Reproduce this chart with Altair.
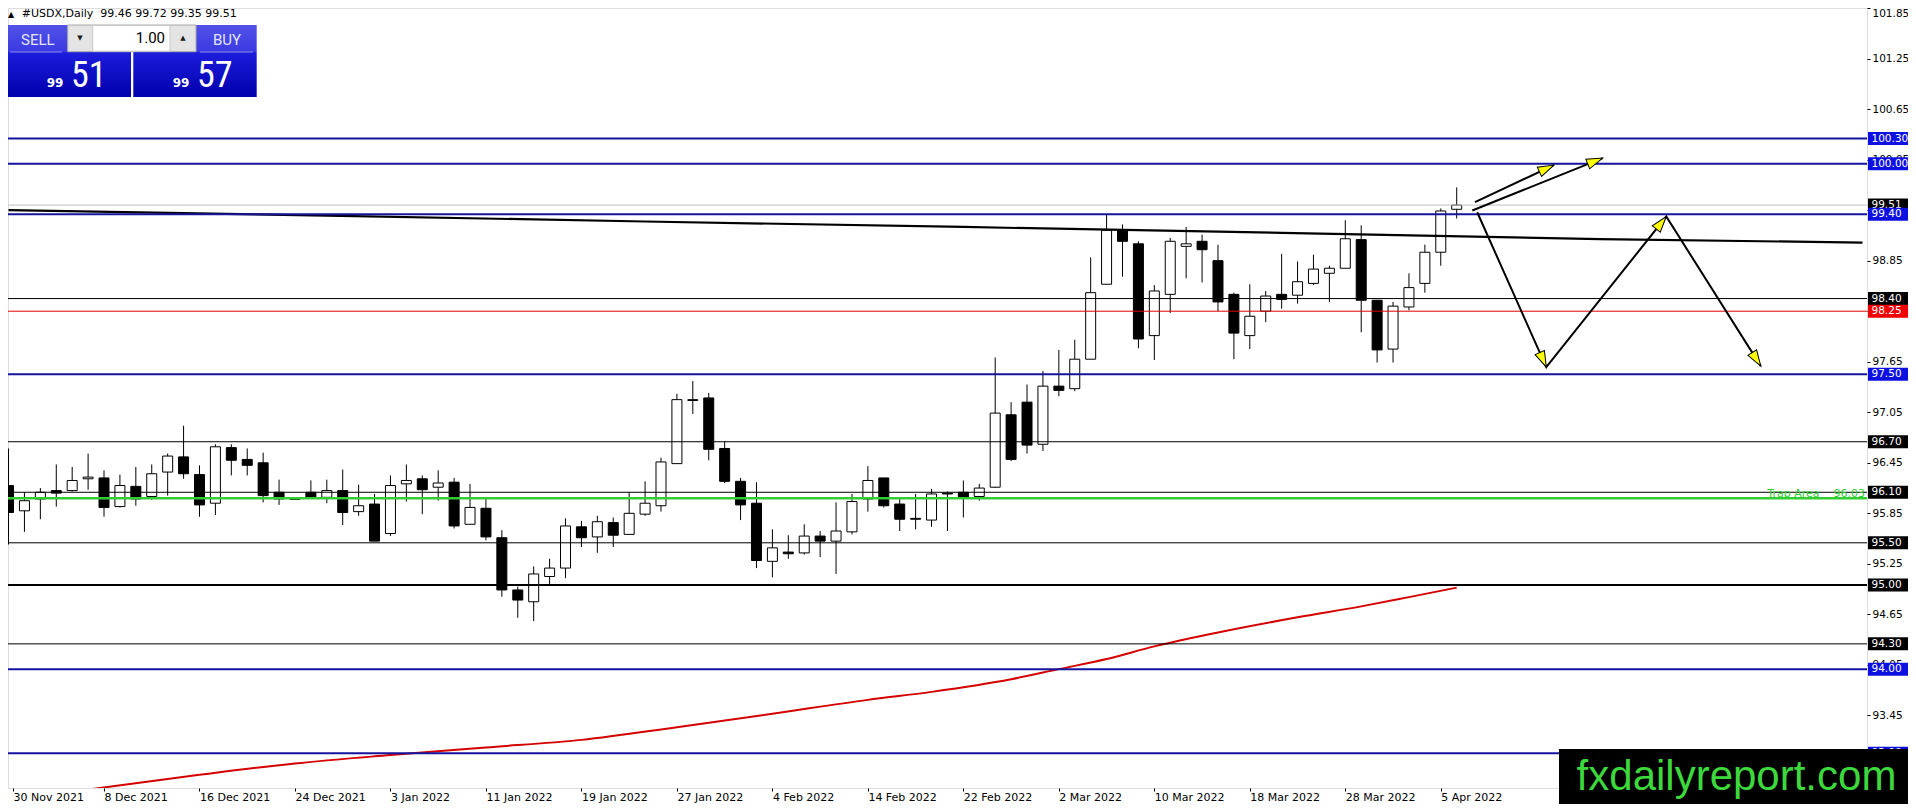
import json
import math
import altair as alt
import pandas as pd

# ---------------- data ----------------
DATE_LABELS = ["30 Nov 2021", "8 Dec 2021", "16 Dec 2021", "24 Dec 2021", "3 Jan 2022",
               "11 Jan 2022", "19 Jan 2022", "27 Jan 2022", "4 Feb 2022", "14 Feb 2022",
               "22 Feb 2022", "2 Mar 2022", "10 Mar 2022", "18 Mar 2022", "28 Mar 2022",
               "5 Apr 2022"]

OPEN = [96.18, 95.88, 96.02, 96.12, 96.12, 96.26, 96.27, 95.93, 96.17, 96.05,
        96.34, 96.52, 96.31, 95.97, 96.63, 96.49, 96.45, 96.10, 96.025, 96.10,
        96.04, 96.12, 95.87, 95.96, 95.61, 96.20, 96.26, 96.16, 96.22, 95.72,
        95.91, 95.56, 94.94, 94.80, 95.10, 95.20, 95.69, 95.57, 95.74, 95.60,
        95.84, 95.94, 96.44, 97.19, 97.22, 96.62, 96.23, 95.97, 95.28, 95.39,
        95.38, 95.58, 95.52, 95.63, 96.02, 96.27, 95.96, 95.79, 95.77, 96.09,
        96.10, 96.05, 96.16, 97.02, 97.17, 96.67, 97.36, 97.33, 97.68, 98.57,
        99.21, 99.05, 97.96, 98.45, 99.02, 99.08, 98.85, 98.45, 97.96, 98.25,
        98.45, 98.44, 98.58, 98.70, 98.76, 99.10, 98.38, 97.80, 98.30, 98.58,
        98.95, 99.46]
HIGH = [96.62, 96.10, 96.15, 96.43, 96.40, 96.56, 96.36, 96.31, 96.40, 96.43,
        96.56, 96.89, 96.42, 96.67, 96.67, 96.62, 96.57, 96.25, 96.03, 96.24,
        96.25, 96.37, 96.19, 96.08, 96.30, 96.43, 96.30, 96.36, 96.27, 96.20,
        96.02, 95.65, 94.98, 95.22, 95.31, 95.79, 95.76, 95.82, 95.80, 96.10,
        96.23, 96.51, 97.27, 97.42, 97.28, 96.70, 96.27, 96.22, 95.66, 95.59,
        95.72, 95.64, 95.98, 96.08, 96.41, 96.27, 96.03, 96.08, 96.14, 96.11,
        96.24, 96.20, 97.70, 97.17, 97.38, 97.54, 97.79, 97.91, 98.89, 99.40,
        99.28, 99.08, 98.56, 99.12, 99.25, 99.16, 99.04, 98.47, 98.57, 98.49,
        98.93, 98.84, 98.92, 98.79, 99.33, 99.27, 98.38, 98.36, 98.70, 99.04,
        99.47, 99.72]
LOW = [95.48, 95.63, 95.78, 95.93, 96.11, 96.13, 95.81, 95.92, 95.94, 96.01,
       96.06, 96.26, 95.81, 95.83, 96.30, 96.30, 95.98, 95.95, 96.01, 96.02,
       95.97, 95.71, 95.82, 95.52, 95.58, 95.99, 95.84, 96.00, 95.67, 95.72,
       95.53, 94.86, 94.61, 94.57, 95.00, 95.08, 95.45, 95.38, 95.45, 95.60,
       95.82, 95.87, 96.44, 97.03, 96.48, 96.21, 95.77, 95.20, 95.09, 95.31,
       95.36, 95.33, 95.13, 95.60, 95.87, 95.92, 95.64, 95.66, 95.69, 95.64,
       95.80, 96.00, 96.15, 96.47, 96.56, 96.59, 97.24, 97.30, 97.68, 98.57,
       98.66, 97.81, 97.67, 98.23, 98.64, 98.59, 98.25, 97.68, 97.80, 98.12,
       98.28, 98.34, 98.56, 98.36, 98.76, 98.00, 97.64, 97.64, 98.26, 98.47,
       98.79, 99.35]
CLOSE = [95.86, 96.00, 96.10, 96.09, 96.24, 96.28, 95.92, 96.18, 96.02, 96.32,
         96.53, 96.32, 95.95, 96.64, 96.48, 96.42, 96.06, 96.02, 96.015, 96.04,
         96.12, 95.86, 95.94, 95.52, 96.18, 96.24, 96.13, 96.21, 95.70, 95.92,
         95.57, 94.94, 94.82, 95.13, 95.20, 95.70, 95.56, 95.75, 95.59, 95.85,
         95.97, 96.46, 97.20, 97.20, 96.61, 96.23, 95.95, 95.29, 95.44, 95.37,
         95.58, 95.52, 95.64, 95.99, 96.24, 95.94, 95.78, 95.78, 96.08, 96.08,
         96.04, 96.15, 97.04, 96.49, 96.66, 97.36, 97.31, 97.68, 98.47, 99.21,
         99.08, 97.92, 98.49, 99.08, 99.05, 98.98, 98.36, 97.99, 98.19, 98.43,
         98.39, 98.60, 98.75, 98.76, 99.11, 98.38, 97.79, 98.31, 98.53, 98.95,
         99.44, 99.51]

# slow moving average (black) and rising moving average (red)
MA_BLACK_IDX = [0, 20, 40, 60, 80, 100, 116.5]
MA_BLACK_VAL = [99.45, 99.385, 99.315, 99.25, 99.18, 99.105, 99.065]
MA_RED_IDX = [5, 12, 18, 24, 30, 36, 42, 48, 54, 58, 63, 66, 69, 72, 76, 81, 85, 88, 91]
MA_RED_VAL = [92.57, 92.745, 92.88, 92.98, 93.07, 93.16, 93.31, 93.47, 93.635, 93.73,
              93.88, 94.00, 94.12, 94.27, 94.435, 94.615, 94.745, 94.855, 94.968]

# horizontal levels
LEVEL_VALUES = [99.51, 100.30, 100.00, 99.40, 98.40, 98.25, 97.50, 96.70, 96.10, 95.50,
                95.00, 94.30, 94.00, 93.00]
LEVEL_KINDS = ["bid", "blue", "blue", "blue", "black", "red", "blue", "black", "black",
               "black", "black2", "black", "blue", "blue"]
TRAP_LEVEL = 96.03
TRAP_TEXT = "Trap Area\u00a0\u00a0\u00a0\u00a096.03"

Y_TICKS = [101.85, 101.25, 100.65, 100.05, 99.45, 98.85, 98.25, 97.65, 97.05, 96.45,
           95.85, 95.25, 94.65, 94.05, 93.45, 92.85]

# drawn scenario arrows (bar index, price)
ARROW1_X = [92.15, 97.11]
ARROW1_Y = [99.544, 99.985]
ARROW2_X = [91.98, 100.17]
ARROW2_Y = [99.445, 100.068]
ZIGZAG_X = [92.29, 96.63, 104.17, 110.11]
ZIGZAG_Y = [99.425, 97.586, 99.374, 97.598]

HEADER_TEXT = "#USDX,Daily\u00a0\u00a099.46 99.72 99.35 99.51"
WATERMARK = "fxdailyreport.com"

# ---------------- styles ----------------
LINE_STYLE = {
    "blue": ("#14149e", 2.0, "#0c10e0"),
    "black": ("#000000", 1.0, "#000000"),
    "black2": ("#000000", 2.0, "#000000"),
    "red": ("#e00000", 1.0, "#f00000"),
    "bid": ("#c0c0c0", 1.0, "#000000"),
}
GREEN = "#32cd32"
FONT = "DejaVu Sans"
UIFONT = "Roboto"

# ---------------- geometry ----------------
W, H = 1859, 780
X0 = 0.28125
X1 = X0 + W / 16.0
Y1 = 101.85
Y0 = 101.8413 - H / 84.3
XPPU = W / (X1 - X0)
YPPU = H / (Y1 - Y0)

XS = alt.Scale(domain=[X0, X1], nice=False, zero=False)
YS = alt.Scale(domain=[Y0, Y1], nice=False, zero=False)

assert len(OPEN) == len(HIGH) == len(LOW) == len(CLOSE)

candles = pd.DataFrame({"idx": list(range(len(OPEN))), "o": OPEN, "h": HIGH,
                        "l": LOW, "c": CLOSE})
candles["dir"] = ["up" if c >= o else "down" for o, c in zip(OPEN, CLOSE)]

X_AXIS = alt.Axis(
    values=[X0] + [6 * k for k in range(1, len(DATE_LABELS))],
    labelExpr="%s[round(datum.value / 6)]" % json.dumps(DATE_LABELS),
    orient="bottom", domain=False, grid=False, ticks=True, tickSize=3,
    tickColor="black", labelColor="black", labelFont=FONT, labelFontSize=11,
    labelAlign="left", labelBaseline="top", labelPadding=0,
    labelFlush=False, labelOverlap=False, title=None)
Y_AXIS = alt.Axis(
    values=Y_TICKS, format=".2f", orient="right", domain=False, grid=False,
    ticks=True, tickSize=3, tickColor="black", labelColor="black", labelFont=FONT,
    labelFontSize=10.5, labelPadding=2, labelFlush=True, labelOverlap=False, title=None)


def X(field):
    return alt.X(field, scale=XS, axis=X_AXIS)


def Y(field):
    return alt.Y(field, scale=YS, axis=Y_AXIS)


wicks = alt.Chart(candles).mark_rule(color="black", strokeWidth=1, clip=True).encode(
    x=X("idx:Q"), y=Y("l:Q"), y2="h:Q")

bodies = alt.Chart(candles).mark_bar(size=10, stroke="black", strokeWidth=1, clip=True).encode(
    x=X("idx:Q"), y=Y("o:Q"), y2="c:Q",
    fill=alt.Fill("dir:N", scale=alt.Scale(domain=["up", "down"], range=["#ffffff", "#000000"]),
                  legend=None))

ma_black = alt.Chart(pd.DataFrame({"i": MA_BLACK_IDX, "v": MA_BLACK_VAL})).mark_line(
    color="black", strokeWidth=2.2, clip=True).encode(x=X("i:Q"), y=Y("v:Q"))

ma_red = alt.Chart(pd.DataFrame({"i": MA_RED_IDX, "v": MA_RED_VAL})).mark_line(
    color="#d40000", strokeWidth=2, clip=True, interpolate="monotone").encode(
    x=X("i:Q"), y=Y("v:Q"))

levels = pd.DataFrame({"level": LEVEL_VALUES, "kind": LEVEL_KINDS})
levels["lc"] = [LINE_STYLE[k][0] for k in LEVEL_KINDS]
levels["lw"] = [LINE_STYLE[k][1] for k in LEVEL_KINDS]
levels["bc"] = [LINE_STYLE[k][2] for k in LEVEL_KINDS]
levels["label"] = ["%.2f" % v for v in LEVEL_VALUES]
levels["ylo"] = levels["level"] - 6.5 / YPPU
levels["yhi"] = levels["level"] + 6.5 / YPPU

rules = alt.Chart(levels).mark_rule(clip=True).encode(
    y=Y("level:Q"),
    color=alt.Color("lc:N", scale=None),
    strokeWidth=alt.StrokeWidth("lw:Q", scale=None))

trap_df = pd.DataFrame({"level": [TRAP_LEVEL], "t": [TRAP_TEXT]})
trap_rule = alt.Chart(trap_df).mark_rule(color=GREEN, strokeWidth=2.5, clip=True).encode(
    y=Y("level:Q"))
trap_text = alt.Chart(trap_df).mark_text(
    align="right", baseline="alphabetic", dy=-1.5, font=FONT, fontSize=11, color=GREEN).encode(
    x=alt.value(W - 2), y=Y("level:Q"), text="t:N")


def box_layers(df):
    r = alt.Chart(df).mark_rect().encode(
        x=alt.value(W + 1), x2=alt.value(W + 46),
        y=Y("ylo:Q"), y2="yhi:Q",
        color=alt.Color("bc:N", scale=None))
    t = alt.Chart(df).mark_text(align="left", baseline="middle", font=FONT, fontSize=10.5,
                                color="white").encode(
        x=alt.value(W + 4.5), y=Y("level:Q"), text="label:N")
    return [r, t]


box_bid = box_layers(levels[levels["kind"] == "bid"])
box_rest = box_layers(levels[levels["kind"] != "bid"])

# arrows
arrow_rows = []
for sid, (xs, ys) in enumerate([(ARROW1_X, ARROW1_Y), (ARROW2_X, ARROW2_Y), (ZIGZAG_X, ZIGZAG_Y)]):
    for k, (xv, yv) in enumerate(zip(xs, ys)):
        arrow_rows.append({"seg": sid, "ord": k, "x": xv, "y": yv})
arrows_df = pd.DataFrame(arrow_rows)

head_rows = []
for xs, ys in [(ARROW1_X, ARROW1_Y), (ARROW2_X, ARROW2_Y), (ZIGZAG_X, ZIGZAG_Y)]:
    for k in range(1, len(xs)):
        dx = (xs[k] - xs[k - 1]) * XPPU
        dy = -(ys[k] - ys[k - 1]) * YPPU
        ang = math.degrees(math.atan2(dx, -dy)) % 360
        head_rows.append({"x": xs[k], "y": ys[k], "ang": ang})
heads_df = pd.DataFrame(head_rows)

arrow_lines = alt.Chart(arrows_df).mark_line(color="black", strokeWidth=2).encode(
    x=X("x:Q"), y=Y("y:Q"), detail="seg:N", order="ord:Q")
arrow_heads = alt.Chart(heads_df).mark_point(
    shape="M0,0L0.32,1L-0.32,1Z", filled=True, fill="#ffff00", color="#ffff00",
    stroke="#000000", strokeWidth=1, opacity=1, size=1024).encode(
    x=X("x:Q"), y=Y("y:Q"), angle=alt.Angle("ang:Q", scale=None))

# ---------------- trading widget & header ----------------
ONE = pd.DataFrame({"k": [0]})


def rect(x, x2, y, y2, **kw):
    return alt.Chart(ONE).mark_rect(**kw).encode(
        x=alt.value(x), x2=alt.value(x2), y=alt.value(y), y2=alt.value(y2))


def label(x, y, text, **kw):
    return alt.Chart(ONE).mark_text(**kw).encode(
        x=alt.value(x), y=alt.value(y), text=alt.value(text))


def hline(x, x2, y, color):
    return alt.Chart(ONE).mark_rule(color=color, strokeWidth=1).encode(
        x=alt.value(x), x2=alt.value(x2), y=alt.value(y))


BTN_GRAD = {"gradient": "linear", "x1": 0, "x2": 0, "y1": 0, "y2": 1,
            "stops": [{"offset": 0, "color": "#5252e8"},
                      {"offset": 0.37, "color": "#3a3ae2"},
                      {"offset": 0.385, "color": "#1c1cdc"},
                      {"offset": 1, "color": "#0000ac"}]}
BIGFONT = "'Liberation Sans Narrow', 'Roboto Condensed', Roboto, sans-serif"

widget = [
    label(3, 9, "\u25b2", font=FONT, fontSize=8, align="center", baseline="alphabetic", color="black"),
    label(13.7, 9.3, HEADER_TEXT, font=FONT, fontSize=11, align="left", baseline="alphabetic",
          color="black"),
    rect(0, 123, 17, 89, fill=BTN_GRAD),
    rect(125.3, 248.7, 17, 89, fill=BTN_GRAD),
    hline(2, 54, 44, "#8a8af0"),
    hline(192, 245, 44, "#8a8af0"),
    rect(59.7, 188, 17, 43.7, fill="#e4e4e4", stroke="#a8a8a8", strokeWidth=1),
    rect(84.7, 162, 17.5, 43.2, fill="#ffffff", stroke="#c8c8c8", strokeWidth=1),
    label(72, 30, "\u25bc", font=FONT, fontSize=7, align="center", baseline="middle", color="#202020"),
    label(175, 30, "\u25b2", font=FONT, fontSize=7, align="center", baseline="middle", color="#202020"),
    label(157, 34.7, "1.00", font=UIFONT, fontSize=15, align="right", baseline="alphabetic",
          color="black"),
    label(13, 37, "SELL", font=UIFONT, fontSize=15, align="left", baseline="alphabetic",
          color="#e2e5ff"),
    label(205, 37, "BUY", font=UIFONT, fontSize=15, align="left", baseline="alphabetic",
          color="#e2e5ff"),
    label(38.7, 79.3, "99", font=FONT, fontSize=12, fontWeight="bold", align="left",
          baseline="alphabetic", color="white"),
    label(63, 79.3, "51", font=BIGFONT, fontSize=36, align="left", baseline="alphabetic",
          color="white"),
    label(164.7, 79.3, "99", font=FONT, fontSize=12, fontWeight="bold", align="left",
          baseline="alphabetic", color="white"),
    label(189, 79.3, "57", font=BIGFONT, fontSize=36, align="left", baseline="alphabetic",
          color="white"),
]

watermark = [
    rect(1551, W + 46, 741, 800, fill="#000000"),
    label(1728.5, 782, WATERMARK, font="Liberation Sans", fontSize=42, align="center",
          baseline="alphabetic", color="#3cd83c"),
]

layers = ([wicks, bodies, ma_black, ma_red, rules, trap_rule, trap_text,
           arrow_lines, arrow_heads] + box_bid + box_rest + widget + watermark)

chart = alt.layer(*layers).properties(
    width=W, height=H,
    autosize=alt.AutoSizeParams(type="none"),
    padding={"left": 0, "top": 0, "right": 41, "bottom": 16},
).configure_view(stroke="black", strokeWidth=1).configure(background="white")

chart.save("out.html", embed_options={"renderer": "svg", "actions": False})
